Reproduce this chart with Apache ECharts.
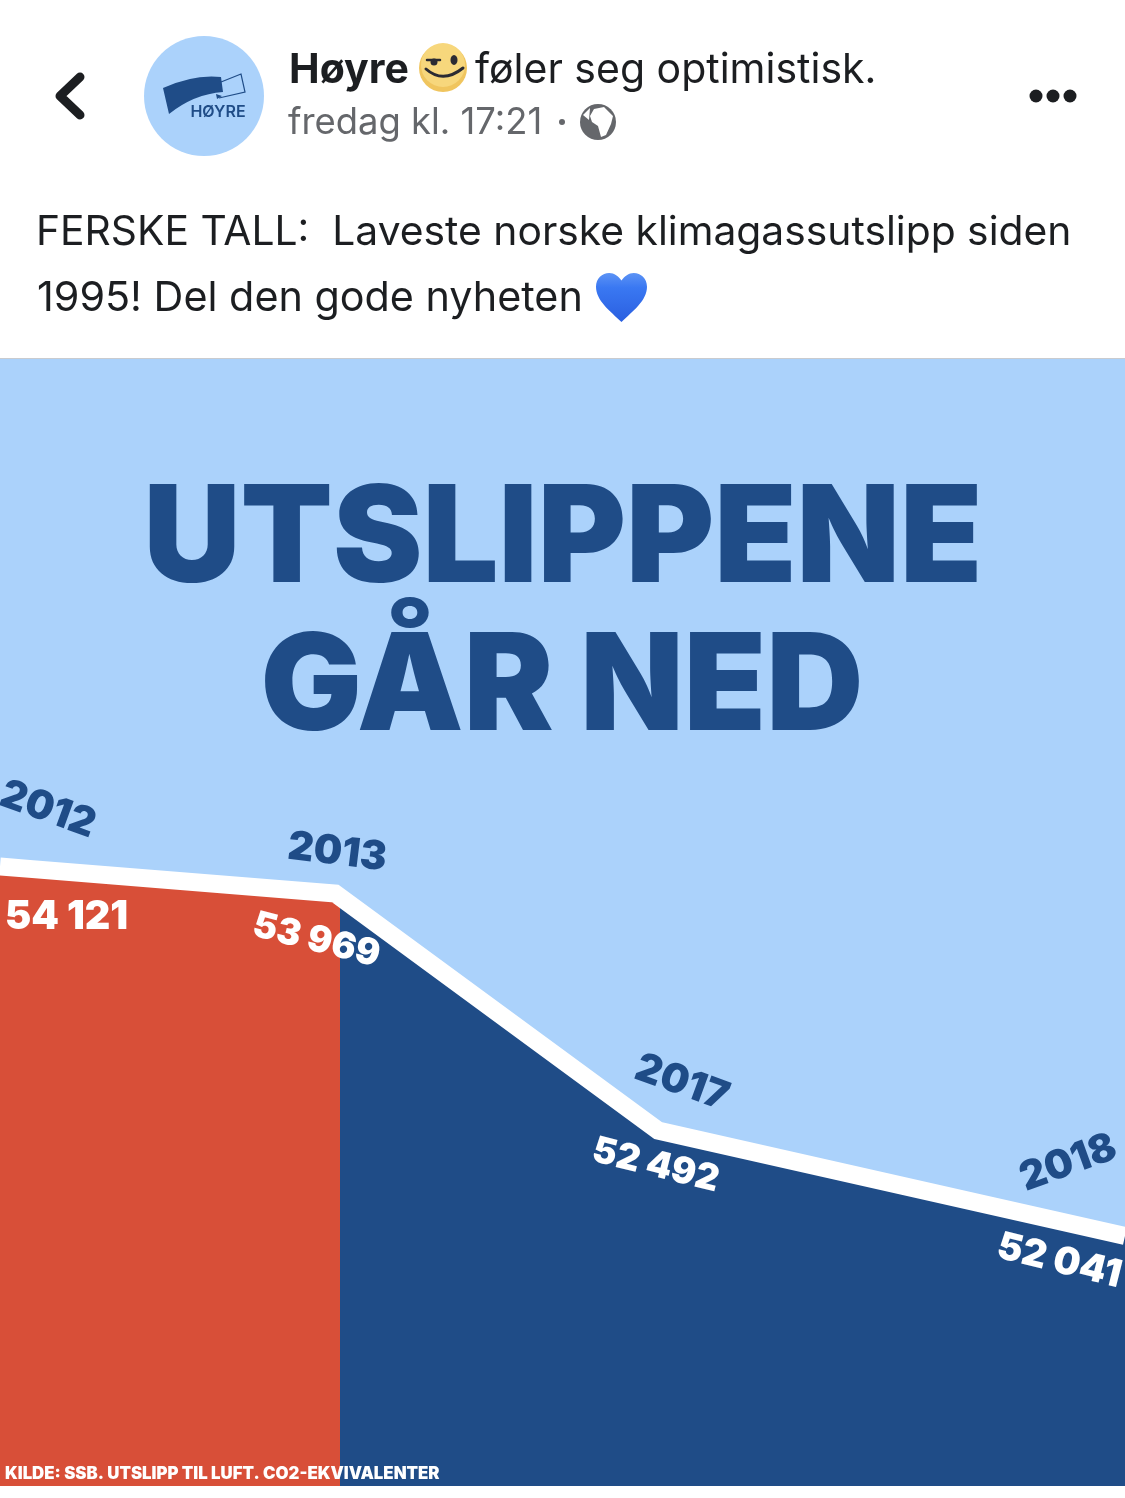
<!DOCTYPE html>
<html>
<head>
  <meta charset="utf-8">
  <title>Utslippene går ned</title>
  <script src="https://cdn.jsdelivr.net/npm/echarts@6/dist/echarts.min.js"></script>
  <style>
    html, body { margin: 0; padding: 0; background: #fff; }
    #chart { width: 1125px; height: 1498px; }
  </style>
</head>
<body>
  <div id="chart"></div>
  <script>
  // tall fra figuren
  var years = ['2012', '2013', '2017', '2018'];
  var utslipp = [54121, 53969, 52492, 52041];
  // plassering langs den skjematiske x-aksen (0-100)
  var yearPlace = [2.9, 29.8, 58.5, 87.0];
  // der linja går ut av bildet: [plass, verdi]
  var lineStart = [0, 54137];
  var lineEnd = [100, 51835];

  var sky = '#ABD2FB', navy = '#1F4C87', red = '#D84F38', ink = '#1C1E21', grey = '#65676B';
  var uiFont = 'Inter, Roboto, sans-serif';
  var headFont = 'Inter, Lato, sans-serif';

  // hjerte-emoji
  echarts.graphic.registerShape('heart', echarts.graphic.extendShape({
    shape: { x: 0, y: 0, width: 50, height: 46 },
    buildPath: function (ctx, s) {
      var w = s.width / 50, h = s.height / 46, x = s.x, y = s.y;
      ctx.moveTo(x + 25 * w, y + 46 * h);
      ctx.bezierCurveTo(x + 14 * w, y + 36 * h, x, y + 26 * h, x, y + 13 * h);
      ctx.bezierCurveTo(x, y + 5 * h, x + 6 * w, y, x + 13 * w, y);
      ctx.bezierCurveTo(x + 18 * w, y, x + 22 * w, y + 3 * h, x + 25 * w, y + 7 * h);
      ctx.bezierCurveTo(x + 28 * w, y + 3 * h, x + 32 * w, y, x + 37 * w, y);
      ctx.bezierCurveTo(x + 44 * w, y, x + 50 * w, y + 5 * h, x + 50 * w, y + 13 * h);
      ctx.bezierCurveTo(x + 50 * w, y + 26 * h, x + 36 * w, y + 36 * h, x + 25 * w, y + 46 * h);
      ctx.closePath();
    }
  }));
  // flagget i logoen
  echarts.graphic.registerShape('hoyreFlag', echarts.graphic.extendShape({
    buildPath: function (ctx) {
      ctx.moveTo(163, 88);
      ctx.quadraticCurveTo(194, 74, 221, 77);
      ctx.lineTo(223, 92);
      ctx.quadraticCurveTo(194, 94, 169, 114);
      ctx.closePath();
    }
  }));

  var chart = echarts.init(document.getElementById('chart'));

  var points = yearPlace.map(function (p, i) { return [p, utslipp[i]]; });
  var linePoints = [lineStart].concat(points, [lineEnd]);

  function pretty(v) {
    return String(v).replace(/(\d{2})(\d{3})/, '$1 $2');
  }

  // etikettene er skrå, hver for seg
  var yearTweak = [
    { rotate: -20, offset: [-6, -61], size: 40 },
    { rotate: -7, offset: [-3, -41], size: 40 },
    { rotate: -20, offset: [6, -53], size: 40 },
    { rotate: 20, offset: [98, -7], size: 40 }
  ];
  var valueTweak = [
    { rotate: 0, offset: [34, 48], size: 39.5 },
    { rotate: -14, offset: [-7, 50], size: 36.5 },
    { rotate: -14, offset: [6, 34.5], size: 36.5 },
    { rotate: -14, offset: [92, 37], size: 38 }
  ];

  function labelSeries(tweak, color, textOf) {
    return {
      type: 'scatter',
      symbolSize: 1,
      z: 5,
      silent: true,
      itemStyle: { color: 'transparent', opacity: 1 },
      data: points.map(function (pt, i) {
        return {
          value: pt,
          label: {
            show: true,
            position: 'inside',
            formatter: textOf(i),
            rotate: tweak[i].rotate,
            offset: tweak[i].offset,
            color: color,
            fontFamily: headFont,
            fontWeight: 900,
            fontSize: tweak[i].size
          }
        };
      })
    };
  }

  var option = {
    animation: false,
    backgroundColor: '#fff',
    grid: { left: 0, top: 359, width: 1125, height: 1127, show: true, backgroundColor: sky, borderWidth: 0 },
    xAxis: { type: 'value', min: 0, max: 100, show: false },
    yAxis: { type: 'value', min: 50277, max: 57300, show: false },
    series: [
      {
        type: 'line',
        data: linePoints,
        symbol: 'none',
        z: 3,
        lineStyle: { color: '#fff', width: 18, join: 'miter', cap: 'butt' },
        // rødt til 2013, blått etterpå
        areaStyle: {
          opacity: 1,
          origin: 'start',
          color: new echarts.graphic.LinearGradient(0, 0, 1, 0, [
            { offset: 0, color: red },
            { offset: 0.302, color: red },
            { offset: 0.302, color: navy },
            { offset: 1, color: navy }
          ])
        }
      },
      labelSeries(yearTweak, navy, function (i) { return years[i]; }),
      labelSeries(valueTweak, '#fff', function (i) { return pretty(utslipp[i]); })
    ],
    graphic: [
      // toppfelt
      { type: 'rect', shape: { x: 0, y: 358, width: 1125, height: 1 }, style: { fill: '#C9CBCF' } },
      { type: 'polyline', shape: { points: [[80, 77], [60, 96], [80, 115]] }, style: { stroke: ink, lineWidth: 9, fill: null, lineCap: 'round', lineJoin: 'round' } },
      { type: 'circle', shape: { cx: 204, cy: 96, r: 60 }, style: { fill: sky } },
      { type: 'hoyreFlag', style: { fill: navy } },
      { type: 'polyline', shape: { points: [[221, 82], [241, 74], [245, 92], [219, 98]] }, style: { stroke: navy, lineWidth: 1.2, fill: null } },
      { type: 'polygon', shape: { points: [[216, 94], [222, 96], [217, 99]] }, style: { fill: navy } },
      { type: 'text', style: { x: 218, y: 112, text: 'HØYRE', fill: navy, font: '600 16px ' + uiFont, align: 'center', verticalAlign: 'middle' } },
      { type: 'text', style: { x: 289, y: 71, text: 'Høyre', fill: ink, font: '700 41px ' + uiFont, verticalAlign: 'middle' } },
      { type: 'circle', shape: { cx: 443, cy: 68, r: 24 }, style: { fill: '#F0C55E' } },
      { type: 'circle', shape: { cx: 443, cy: 65, r: 22 }, style: { fill: '#F7D77C' } },
      { type: 'polyline', shape: { points: [[427, 60], [440, 60]] }, style: { stroke: '#2B2B33', lineWidth: 2.5, fill: null, lineCap: 'round' } },
      { type: 'circle', shape: { cx: 434, cy: 62, r: 3.5 }, style: { fill: '#2B2B33' } },
      { type: 'ellipse', shape: { cx: 454, cy: 60, rx: 3.5, ry: 5 }, style: { fill: '#2B2B33' } },
      { type: 'bezierCurve', shape: { x1: 426, y1: 69, x2: 463, y2: 68, cpx1: 443, cpy1: 84 }, style: { stroke: '#2B2B33', lineWidth: 3, fill: null, lineCap: 'round' } },
      { type: 'text', style: { x: 475, y: 71, text: 'føler seg optimistisk.', fill: ink, font: '400 41px ' + uiFont, verticalAlign: 'middle' } },
      { type: 'text', style: { x: 288, y: 123, text: 'fredag kl. 17:21', fill: grey, font: '400 36.4px ' + uiFont, verticalAlign: 'middle' } },
      { type: 'circle', shape: { cx: 562, cy: 122, r: 3 }, style: { fill: grey } },
      { type: 'circle', shape: { cx: 598, cy: 122, r: 18 }, style: { fill: grey } },
      { type: 'polygon', shape: { points: [[594, 109], [604, 107], [613, 116], [611, 124], [606, 135], [601, 137], [598, 126], [592, 122], [590, 116]] }, style: { fill: '#fff' } },
      { type: 'polygon', shape: { points: [[590, 108], [583, 115], [589, 120]] }, style: { fill: '#fff' } },
      { type: 'circle', shape: { cx: 1036, cy: 96, r: 6.5 }, style: { fill: ink } },
      { type: 'circle', shape: { cx: 1053, cy: 96, r: 6.5 }, style: { fill: ink } },
      { type: 'circle', shape: { cx: 1070, cy: 96, r: 6.5 }, style: { fill: ink } },
      // innlegget
      { type: 'text', style: { x: 36, y: 233, text: 'FERSKE TALL:  Laveste norske klimagassutslipp siden', fill: ink, font: '400 40.8px ' + uiFont, verticalAlign: 'middle' } },
      { type: 'text', style: { x: 37, y: 299, text: '1995! Del den gode nyheten', fill: ink, font: '400 41.3px ' + uiFont, verticalAlign: 'middle' } },
      {
        type: 'heart',
        shape: { x: 596, y: 273, width: 51, height: 49 },
        style: {
          fill: new echarts.graphic.LinearGradient(0, 0, 0, 1, [
            { offset: 0, color: '#5C93F5' },
            { offset: 0.3, color: '#3A78F2' },
            { offset: 1, color: '#2A5FE0' }
          ])
        }
      },
      // tittel og kilde
      { type: 'text', x: 563, y: 542, z: 6, style: { text: 'UTSLIPPENE', fill: navy, font: '900 134.5px ' + headFont, align: 'center', verticalAlign: 'middle' } },
      { type: 'text', x: 562, y: 690, z: 6, style: { text: 'GÅR NED', fill: navy, font: '900 134.5px ' + headFont, align: 'center', verticalAlign: 'middle' } },
      { type: 'text', z: 6, style: { x: 5, y: 1474, text: 'KILDE: SSB. UTSLIPP TIL LUFT. CO2-EKVIVALENTER', fill: '#fff', font: '900 16.8px ' + headFont, verticalAlign: 'middle' } }
    ]
  };

  chart.setOption(option);
  </script>
</body>
</html>
